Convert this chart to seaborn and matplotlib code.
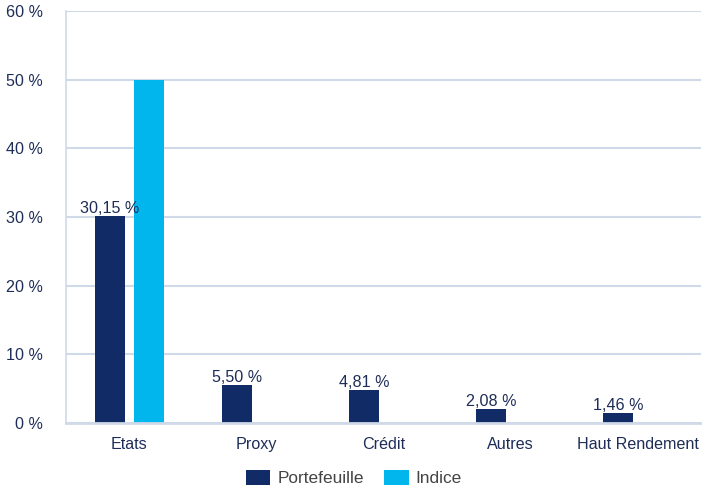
import pandas as pd
import matplotlib.pyplot as plt
import seaborn as sns

# -----------------------------
# Data
# -----------------------------
categories = ["Etats", "Proxy", "Crédit", "Autres", "Haut Rendement"]
portefeuille = [30.15, 5.50, 4.81, 2.08, 1.46]
indice = [49.9, 0.0, 0.0, 0.0, 0.0]
series_names = ["Portefeuille", "Indice"]
y_ticks = [0, 10, 20, 30, 40, 50, 60]

navy = "#112b66"
cyan = "#00b6ed"
grid_col = "#cfd9e7"
text_col = "#1e2d58"

df = pd.DataFrame({
    "categorie": categories * 2,
    "valeur": portefeuille + indice,
    "serie": [series_names[0]] * len(categories) + [series_names[1]] * len(categories),
})

# -----------------------------
# Style
# -----------------------------
sns.set_style("white")
plt.rcParams["font.family"] = ["Liberation Sans", "DejaVu Sans"]

fig = plt.figure(figsize=(7.02, 4.90), dpi=100)
ax = fig.add_axes([66 / 702, 1 - 423 / 490, 635 / 702, (423 - 11) / 490])

sns.barplot(data=df, x="categorie", y="valeur", hue="serie",
            order=categories, hue_order=series_names,
            palette=[navy, cyan], saturation=1, width=0.616, gap=0.23,
            linewidth=0, ax=ax)

# value labels on Portefeuille bars only
ax.bar_label(ax.containers[0],
             labels=[f"{v:.2f} %".replace(".", ",") for v in portefeuille],
             padding=0, fontsize=11.6, color=text_col)

# -----------------------------
# Axes
# -----------------------------
ax.set_ylim(0, 60)
ax.set_xlim(-0.5, len(categories) - 0.5)
ax.set_yticks(y_ticks)
ax.set_yticklabels([f"{t} %" for t in y_ticks])
ax.set_xlabel("")
ax.set_ylabel("")
ax.grid(axis="y", color=grid_col, linewidth=1.5)
ax.set_axisbelow(True)

for side in ["top", "right"]:
    ax.spines[side].set_visible(False)
ax.spines["left"].set_color(grid_col)
ax.spines["left"].set_linewidth(1.2)
ax.spines["bottom"].set_color(grid_col)
ax.spines["bottom"].set_linewidth(2)

ax.tick_params(axis="y", length=0, pad=16.5, labelsize=11.6, labelcolor=text_col)
ax.tick_params(axis="x", which="major", length=0, pad=10, labelsize=11.6, labelcolor=text_col)
ax.set_xticks([i - 0.5 for i in range(len(categories) + 1)], minor=True)
ax.tick_params(axis="x", which="minor", length=8.6, width=1.2, color=grid_col)

# -----------------------------
# Legend
# -----------------------------
handles, labels = ax.get_legend_handles_labels()
ax.get_legend().remove()
fig.legend(handles, labels, loc="center", bbox_to_anchor=(354 / 702, 1 - 478 / 490),
           ncol=2, frameon=False, fontsize=12.4, handlelength=1.4, handleheight=1.0,
           handletextpad=0.4, columnspacing=1.2, labelcolor="#444444")

fig.savefig("out.png", dpi=100)
